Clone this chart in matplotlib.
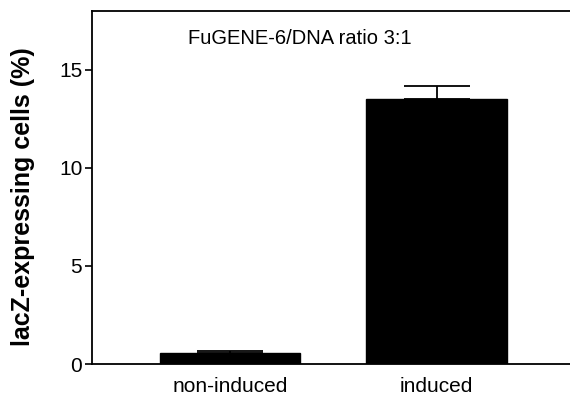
import numpy as np
import matplotlib
matplotlib.use("Agg")
import matplotlib.pyplot as plt

plt.rcParams["font.family"] = ["Liberation Sans", "DejaVu Sans"]

groups = ["non-induced", "induced"]
values = [0.57, 13.5]
sem = [0.09, 0.68]

fig = plt.figure(figsize=(5.7, 3.99), dpi=100)
ax = fig.add_axes([92 / 570, 1 - 364 / 399, 1 - 92 / 570, (364 - 11) / 399])

x = np.arange(len(groups))
ax.bar(x, values, width=0.68, color="black", edgecolor="black")
ax.errorbar(x, values, yerr=[np.zeros(len(sem)), sem], fmt="none",
            ecolor="black", elinewidth=1.3, capsize=24, capthick=1.3)

ax.set_xlim(-0.668, 1.646)
ax.set_ylim(0, 18)
ax.set_yticks([0, 5, 10, 15])
ax.set_xticks(x)
ax.set_xticklabels(groups, fontsize=15)
ax.tick_params(axis="y", labelsize=15, length=5, width=1.2, pad=2)
ax.tick_params(axis="x", length=0, pad=9)
ax.spines["right"].set_visible(False)
for s in ("left", "bottom", "top"):
    ax.spines[s].set_linewidth(1.3)
ax.set_ylabel("lacZ-expressing cells (%)", fontsize=18, fontweight="bold")
ax.yaxis.set_label_coords(-0.12, 0.475)
ax.text(0.34, 16.6, "FuGENE-6/DNA ratio 3:1", ha="center", va="center", fontsize=14.5)

fig.savefig("out.png", dpi=100)
